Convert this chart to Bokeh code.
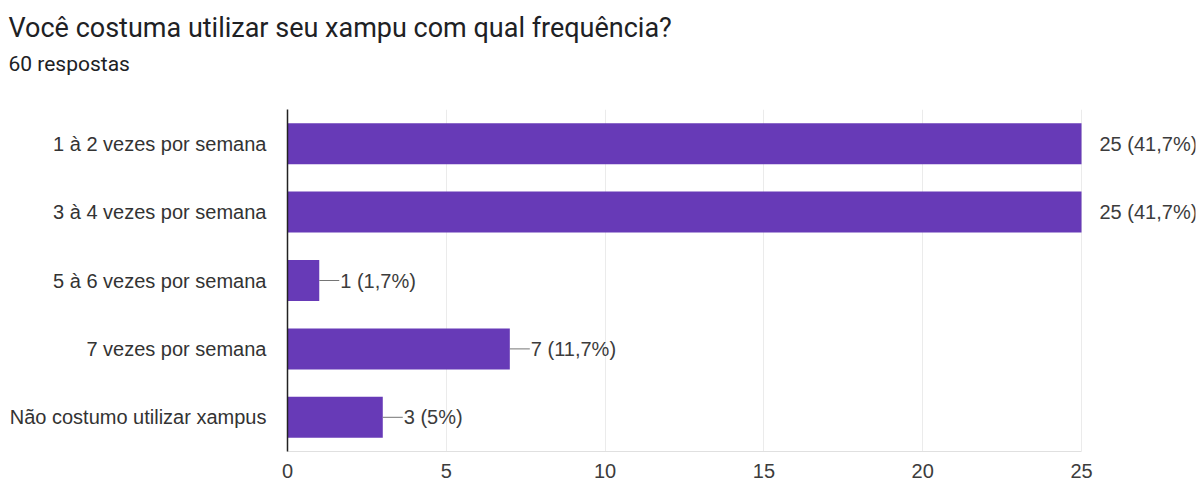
from bokeh.plotting import figure
from bokeh.models import FactorRange, Range1d, Title, FixedTicker, ColumnDataSource, LabelSet
from bokeh.core.properties import value
from bokeh.embed import file_html
from bokeh.resources import INLINE

categories = ["1 à 2 vezes por semana", "3 à 4 vezes por semana", "5 à 6 vezes por semana",
              "7 vezes por semana", "Não costumo utilizar xampus"]
counts = [25, 25, 1, 7, 3]
value_labels = ["25 (41,7%)", "25 (41,7%)", "1 (1,7%)", "7 (11,7%)", "3 (5%)"]
x_ticks = [0, 5, 10, 15, 20, 25]
title_text = "Você costuma utilizar seu xampu com qual frequência?"
subtitle_text = "60 respostas"

AXIS_MAX = 25
AXIS_W = 794            # pixels spanned by 0..25
FRAME_W, FRAME_H = 908, 342
px = AXIS_MAX / AXIS_W  # data units per pixel
X_END = FRAME_W * px    # frame extends right so value labels are not clipped
top = max(counts)

p = figure(
    frame_width=FRAME_W, frame_height=FRAME_H,
    y_range=FactorRange(factors=list(reversed(categories))),
    x_range=Range1d(0, X_END),
    output_backend="svg", toolbar_location=None,
    min_border_left=287, min_border_right=5, min_border_top=109, min_border_bottom=30,
)
p.outline_line_color = None

spacer = Title(text=" ", text_font_size="2px", standoff=27)
sub = Title(text=subtitle_text, text_font="Roboto", text_font_size="21px",
            text_font_style="normal", text_color="#202124", align="left", offset=-279, standoff=6)
main = Title(text=title_text, text_font="Roboto", text_font_size="27px",
             text_font_style="normal", text_color="#202124", align="left", offset=-279, standoff=6)
p.add_layout(spacer, "above")
p.add_layout(sub, "above")
p.add_layout(main, "above")

src = ColumnDataSource(dict(
    cat=categories,
    count=counts,
    label=value_labels,
    x1=[c if c == top else c + 20 * px for c in counts],
    off=[18 if c == top else 21 for c in counts],
))

p.hbar(y="cat", left=0, right="count", height=0.6, source=src,
       fill_color="#673AB7", line_color=None)
p.segment(x0="count", y0="cat", x1="x1", y1="cat", source=src,
          line_color="#757575", line_width=1)

labels = LabelSet(x="count", y="cat", text="label", x_offset="off", source=src,
                  text_font=value("Liberation Sans"), text_font_size=value("20px"),
                  text_color="#3c3c3c", text_baseline="middle", text_align="left")
p.add_layout(labels)

p.xaxis.ticker = FixedTicker(ticks=x_ticks)
p.xaxis.bounds = (0, AXIS_MAX)
p.xaxis.axis_line_color = "#e0e0e0"
p.xaxis.major_tick_line_color = None
p.xaxis.minor_tick_line_color = None
p.xaxis.major_label_text_font = "Liberation Sans"
p.xaxis.major_label_text_font_size = "20px"
p.xaxis.major_label_text_color = "#3c3c3c"
p.xaxis.major_label_standoff = 6

p.yaxis.axis_line_color = "#222222"
p.yaxis.axis_line_width = 1.5
p.yaxis.major_tick_line_color = None
p.yaxis.minor_tick_line_color = None
p.yaxis.major_label_text_font = "Liberation Sans"
p.yaxis.major_label_text_font_size = "20px"
p.yaxis.major_label_text_color = "#333333"
p.yaxis.major_label_standoff = 15

p.xgrid.grid_line_color = "#ebebeb"
p.ygrid.grid_line_color = None

open("out.html", "w").write(file_html(p, INLINE))
